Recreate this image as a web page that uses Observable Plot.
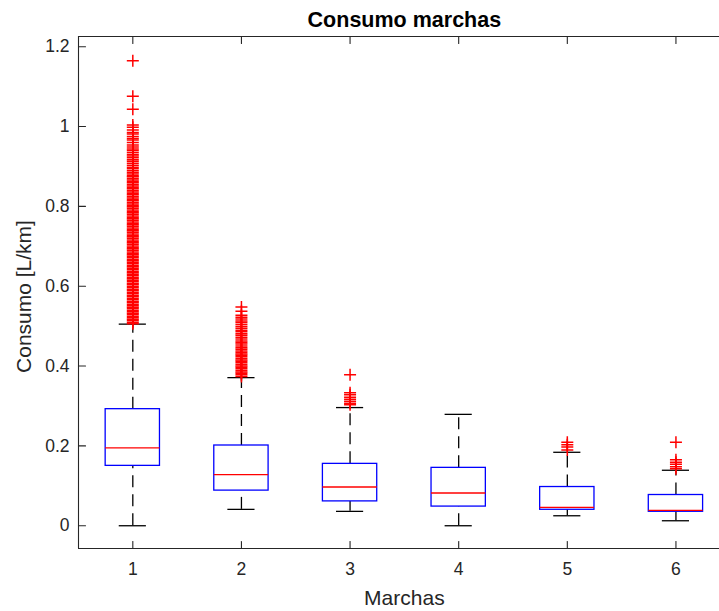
<!DOCTYPE html>
<html>
<head>
<meta charset="utf-8">
<script src="https://cdn.jsdelivr.net/npm/d3@7"></script>
<script src="https://cdn.jsdelivr.net/npm/@observablehq/plot@0.6"></script>
<style>
  html, body { margin: 0; padding: 0; background: #fff; overflow: hidden; }
  #chart svg { display: block; }
</style>
</head>
<body>
<div id="chart"></div>
<script>
// Gear (marcha) summary statistics for fuel consumption, L/km
const marchas     = [1, 2, 3, 4, 5, 6];
const whiskerLow  = [0.000, 0.041, 0.036, 0.000, 0.025, 0.0125];
const q1          = [0.150, 0.088, 0.061, 0.048, 0.040, 0.035];
const medians     = [0.195, 0.128, 0.097, 0.082, 0.046, 0.0385];
const q3          = [0.292, 0.201, 0.155, 0.145, 0.097, 0.077];
const whiskerHigh = [0.505, 0.371, 0.296, 0.279, 0.184, 0.139];

// Outliers per gear
const outliers1 = [
  1.165, 1.076, 1.043,
  1.004, 0.998, 0.991, 0.985, 0.981, 0.975, 0.970, 0.966, 0.960, 0.954, 0.949, 0.944,
  0.940, 0.935, 0.930, 0.926, 0.922, 0.917, 0.913, 0.908, 0.903, 0.898, 0.894, 0.889, 0.885, 0.881,
  0.877, 0.874, 0.870, 0.866, 0.862, 0.859, 0.855, 0.851, 0.847, 0.844, 0.840, 0.836, 0.832,
  0.829, 0.825, 0.821, 0.817, 0.814, 0.810, 0.806, 0.802, 0.799, 0.795, 0.791, 0.787, 0.784,
  0.780, 0.776, 0.772, 0.769, 0.765, 0.761, 0.757, 0.754, 0.750, 0.746, 0.742, 0.739, 0.735,
  0.731, 0.727, 0.724, 0.720, 0.716, 0.712, 0.709, 0.705, 0.701, 0.697, 0.694, 0.690, 0.686,
  0.682, 0.679, 0.675, 0.671, 0.667, 0.664, 0.660, 0.656, 0.652, 0.649, 0.645, 0.641, 0.637,
  0.634, 0.630, 0.626, 0.622, 0.619, 0.615, 0.611, 0.607, 0.604, 0.600, 0.596, 0.592, 0.589,
  0.585, 0.581, 0.577, 0.574, 0.570, 0.566, 0.562, 0.559, 0.555, 0.551, 0.547, 0.544, 0.540,
  0.536, 0.532, 0.529, 0.525, 0.521, 0.517, 0.514, 0.510, 0.506
];
const outliers2 = [
  0.548, 0.537, 0.527, 0.522, 0.518, 0.513, 0.509, 0.504, 0.499, 0.495, 0.490, 0.486,
  0.481, 0.477, 0.472, 0.468, 0.463, 0.459, 0.455, 0.450, 0.446, 0.442, 0.438, 0.434,
  0.430, 0.427, 0.423, 0.419, 0.415, 0.412, 0.408, 0.404, 0.400, 0.397, 0.393, 0.389,
  0.385, 0.382, 0.378, 0.374
];
const outliers3 = [0.378, 0.333, 0.328, 0.322, 0.317, 0.312, 0.307, 0.303];
const outliers4 = [];
const outliers5 = [0.209, 0.203, 0.197, 0.190];
const outliers6 = [0.209, 0.165, 0.159, 0.154, 0.148, 0.143];

// Axes
const xTicks = [1, 2, 3, 4, 5, 6];
const yTicks = [0, 0.2, 0.4, 0.6, 0.8, 1, 1.2];
const xLim = [0.5, 6.5];          // full axes limits (right edge runs past the page)
const xVisible = [0.5, 6.401];    // part of the axes shown within the page width
const yLim = [-0.057, 1.2255];

const titleText = "Consumo marchas";
const xLabelText = "Marchas";
const yLabelText = "Consumo [L/km]";

// Tables built from the arrays above
const boxes = marchas.map((m, i) => ({
  m, lo: whiskerLow[i], q1: q1[i], med: medians[i], q3: q3[i], hi: whiskerHigh[i]
}));
const outliers = [outliers1, outliers2, outliers3, outliers4, outliers5, outliers6]
  .flatMap((arr, i) => arr.map(v => ({m: marchas[i], v})));

const boxHalf = 0.25;   // box width 0.5
const capHalf = 0.125;  // whisker cap width 0.25
const axisColor = "#262626";
const font = "'Liberation Sans', Arial, Helvetica, sans-serif";
const tickShape = {draw(ctx, l) { ctx.moveTo(0, 0); ctx.lineTo(0, -l); }};
const xMid = (xLim[0] + xLim[1]) / 2;

const chart = Plot.plot({
  width: 719,
  height: 611,
  marginTop: 36,
  marginBottom: 63,
  marginLeft: 78,
  marginRight: 0,
  style: {fontFamily: font, background: "#fff", overflow: "visible"},
  x: {domain: xVisible, label: null},
  y: {domain: yLim, label: null},
  marks: [
    // whiskers (dashed), drawn from the lower value upward
    Plot.ruleX(boxes, {x: "m", y1: "lo", y2: "q1", stroke: "#000", strokeWidth: 1.3, strokeDasharray: "12,7"}),
    Plot.ruleX(boxes, {x: "m", y1: "q3", y2: "hi", stroke: "#000", strokeWidth: 1.3, strokeDasharray: "12,7"}),
    // whisker caps
    Plot.ruleY(boxes, {y: "lo", x1: d => d.m - capHalf, x2: d => d.m + capHalf, stroke: "#000", strokeWidth: 1.3}),
    Plot.ruleY(boxes, {y: "hi", x1: d => d.m - capHalf, x2: d => d.m + capHalf, stroke: "#000", strokeWidth: 1.3}),
    // boxes
    Plot.rect(boxes, {x1: d => d.m - boxHalf, x2: d => d.m + boxHalf, y1: "q1", y2: "q3",
      fill: "none", stroke: "#0000ff", strokeWidth: 1.3}),
    // medians
    Plot.ruleY(boxes, {y: "med", x1: d => d.m - boxHalf, x2: d => d.m + boxHalf, stroke: "#ff0000", strokeWidth: 1.3}),
    // outliers ("+" markers, about 12 px across)
    Plot.dot(outliers, {x: "m", y: "v", symbol: "plus", r: 3.95, fill: "none", stroke: "#ff0000", strokeWidth: 1.5}),
    // axes box (top, bottom, left)
    Plot.ruleY([yLim[0], yLim[1]], {stroke: axisColor, strokeWidth: 1.1}),
    Plot.ruleX([xLim[0]], {stroke: axisColor, strokeWidth: 1.1}),
    // inward tick marks
    Plot.vector(yTicks, {x: xLim[0], y: d => d, length: 7, rotate: 90, anchor: "start", shape: tickShape, stroke: axisColor, strokeWidth: 1.1}),
    Plot.vector(xTicks, {x: d => d, y: yLim[0], length: 7, rotate: 0, anchor: "start", shape: tickShape, stroke: axisColor, strokeWidth: 1.1}),
    Plot.vector(xTicks, {x: d => d, y: yLim[1], length: 7, rotate: 180, anchor: "start", shape: tickShape, stroke: axisColor, strokeWidth: 1.1}),
    // tick labels
    Plot.axisY({ticks: yTicks, tickSize: 0, tickPadding: 9, tickFormat: d => String(+d.toFixed(1)),
      fontSize: 17.5, fill: axisColor, label: null}),
    Plot.axisX({ticks: xTicks, tickSize: 0, tickPadding: 14, tickFormat: d => String(d),
      fontSize: 17.5, fill: axisColor, label: null}),
    // title and axis labels
    Plot.text([titleText], {x: xMid, frameAnchor: "top", dy: -16, text: d => d,
      fontSize: 21.5, fontWeight: "bold", fill: "#000", lineAnchor: "middle"}),
    Plot.text([xLabelText], {x: xMid, frameAnchor: "bottom", dy: 50, text: d => d,
      fontSize: 21, fill: axisColor, lineAnchor: "middle"}),
    Plot.text([yLabelText], {frameAnchor: "left", dx: -54, dy: 4, rotate: -90, text: d => d,
      fontSize: 21, fill: axisColor, lineAnchor: "middle", textAnchor: "middle"})
  ]
});
document.getElementById("chart").appendChild(chart);
</script>
</body>
</html>
